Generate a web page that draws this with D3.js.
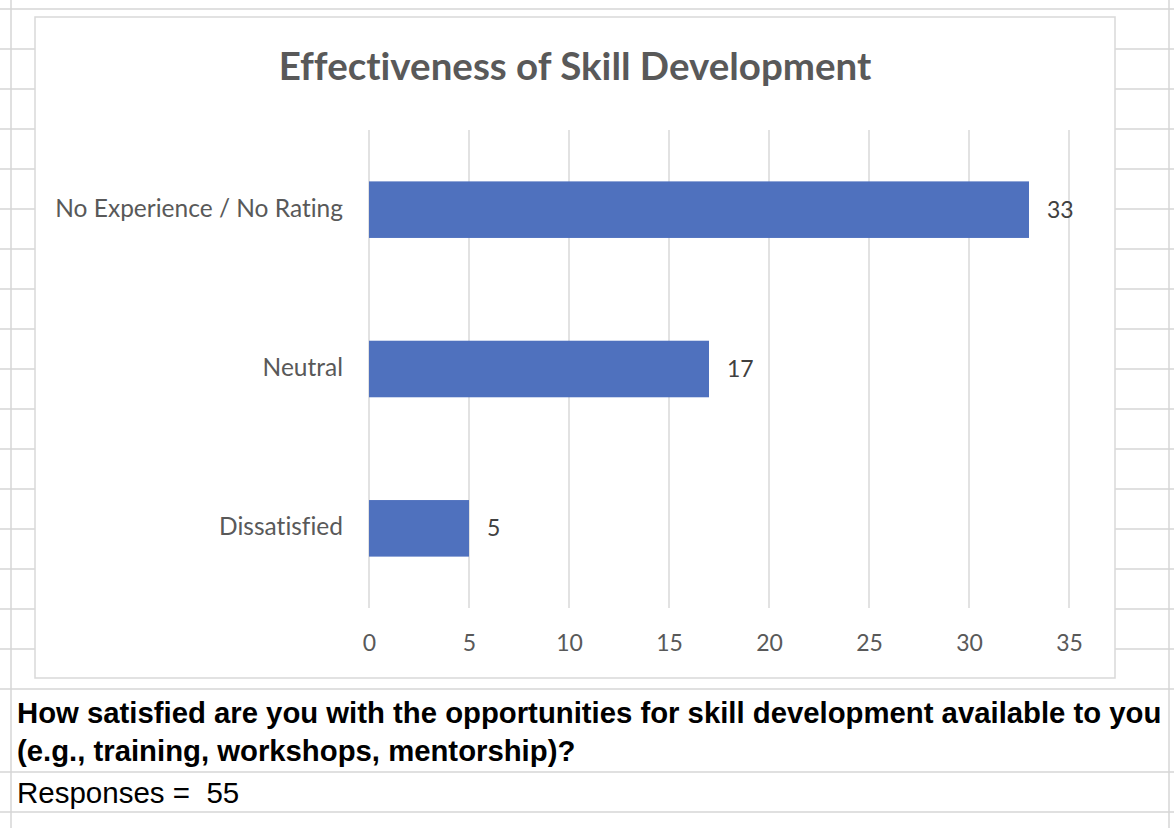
<!DOCTYPE html>
<html>
<head>
<meta charset="utf-8">
<script src="https://cdn.jsdelivr.net/npm/d3@7"></script>
<style>
  html, body { margin: 0; padding: 0; background: #fff; }
  svg { display: block; }
  text { font-variant-ligatures: none; font-feature-settings: "liga" 0; }
</style>
</head>
<body>
<svg id="chart" width="1174" height="828"></svg>
<script>
// ---- data ----
const chartTitle = "Effectiveness of Skill Development";
const categories = ["No Experience / No Rating", "Neutral", "Dissatisfied"];
const values = [33, 17, 5];
const xTicks = [0, 5, 10, 15, 20, 25, 30, 35];
const questionLines = [
  "How satisfied are you with the opportunities for skill development available to you",
  "(e.g., training, workshops, mentorship)?"
];
const responsesText = "Responses =  55";

// ---- layout ----
const W = 1174, H = 828;
const svg = d3.select("#chart");
const gridColor = "#d6d6d6";
const chartFont = "Lato, 'Open Sans', sans-serif";
const sheetFont = "'Liberation Sans', Arial, sans-serif";

// spreadsheet grid
const rowLines = d3.range(9, 650, 40).concat([689, 772, 812]);
svg.append("g").selectAll("line").data(rowLines).join("line")
  .attr("x1", 0).attr("x2", W).attr("y1", d => d).attr("y2", d => d)
  .attr("stroke", gridColor).attr("stroke-width", 1.5);
svg.append("g").selectAll("line").data([11, 1169]).join("line")
  .attr("x1", d => d).attr("x2", d => d).attr("y1", 0).attr("y2", H)
  .attr("stroke", gridColor).attr("stroke-width", 1.5);

// chart box
const box = {x: 35, y: 17, w: 1080, h: 661};
svg.append("rect").attr("x", box.x).attr("y", box.y).attr("width", box.w).attr("height", box.h)
  .attr("fill", "#fff").attr("stroke", "#d9d9d9").attr("stroke-width", 1.5);

// title
svg.append("text").attr("x", box.x + box.w / 2).attr("y", 80)
  .attr("text-anchor", "middle")
  .attr("font-family", chartFont).attr("font-weight", "bold")
  .attr("font-size", 38.5).attr("fill", "#595959").text(chartTitle);

// scales
const x = d3.scaleLinear().domain([0, 35]).range([369, 1069]);
const y = d3.scaleBand().domain(categories).range([130, 608]).paddingInner(0.645).paddingOuter(0.3225);

// vertical gridlines
svg.append("g").selectAll("line").data(xTicks).join("line")
  .attr("x1", d => x(d)).attr("x2", d => x(d)).attr("y1", 130).attr("y2", 608)
  .attr("stroke", "#d9d9d9").attr("stroke-width", 1.5);

// bars
svg.append("g").selectAll("rect").data(values).join("rect")
  .attr("x", x(0)).attr("y", (d, i) => y(categories[i]))
  .attr("width", d => x(d) - x(0)).attr("height", y.bandwidth())
  .attr("fill", "#4f71be");

// value labels
svg.append("g").selectAll("text").data(values).join("text")
  .attr("x", d => x(d) + 18).attr("y", (d, i) => y(categories[i]) + y.bandwidth() / 2 + 8)
  .attr("font-family", chartFont).attr("font-size", 23)
  .attr("fill", "#404040").text(d => d);

// category axis labels
svg.append("g").selectAll("text").data(categories).join("text")
  .attr("x", 343).attr("y", d => y(d) + y.bandwidth() / 2 + 7)
  .attr("text-anchor", "end")
  .attr("font-family", chartFont).attr("font-size", 24.5)
  .attr("fill", "#595959").text(d => d);

// x axis tick labels
const xAxis = d3.axisBottom(x).tickValues(xTicks).tickSize(0).tickPadding(0);
const gx = svg.append("g").attr("transform", "translate(0,651)").call(xAxis);
gx.select(".domain").remove();
gx.selectAll("text")
  .attr("font-family", chartFont).attr("font-size", 23)
  .attr("fill", "#595959").attr("dy", 0).attr("y", 0);

// question text
svg.append("g").selectAll("text").data(questionLines).join("text")
  .attr("x", 17).attr("y", (d, i) => 723 + i * 38)
  .attr("font-family", sheetFont).attr("font-weight", "bold")
  .attr("font-size", 29.3).attr("fill", "#000").text(d => d);

svg.append("text").attr("x", 17).attr("y", 803)
  .attr("xml:space", "preserve").style("white-space", "pre")
  .attr("font-family", sheetFont)
  .attr("font-size", 29.5).attr("fill", "#000").text(responsesText);
</script>
</body>
</html>
